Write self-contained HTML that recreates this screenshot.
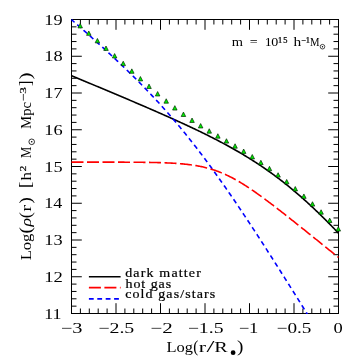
<!DOCTYPE html>
<html><head><meta charset="utf-8"><style>
html,body{margin:0;padding:0;background:#fff;}
svg{display:block;font-family:"Liberation Serif",serif;will-change:transform;}
</style></head><body>
<svg width="357" height="357" viewBox="0 0 357 357">
<rect width="357" height="357" fill="#fff"/>
<defs><clipPath id="c"><rect x="71.0" y="19.0" width="268.0" height="295.0"/></clipPath></defs>
<rect x="71.5" y="19.5" width="267.0" height="294.0" fill="none" stroke="#000" stroke-width="1"/>
<path d="M71.50 313.50 v-10.30 M71.50 19.50 v10.30 M80.40 313.50 v-5.00 M80.40 19.50 v5.00 M89.30 313.50 v-5.00 M89.30 19.50 v5.00 M98.20 313.50 v-5.00 M98.20 19.50 v5.00 M107.10 313.50 v-5.00 M107.10 19.50 v5.00 M116.00 313.50 v-10.30 M116.00 19.50 v10.30 M124.90 313.50 v-5.00 M124.90 19.50 v5.00 M133.80 313.50 v-5.00 M133.80 19.50 v5.00 M142.70 313.50 v-5.00 M142.70 19.50 v5.00 M151.60 313.50 v-5.00 M151.60 19.50 v5.00 M160.50 313.50 v-10.30 M160.50 19.50 v10.30 M169.40 313.50 v-5.00 M169.40 19.50 v5.00 M178.30 313.50 v-5.00 M178.30 19.50 v5.00 M187.20 313.50 v-5.00 M187.20 19.50 v5.00 M196.10 313.50 v-5.00 M196.10 19.50 v5.00 M205.00 313.50 v-10.30 M205.00 19.50 v10.30 M213.90 313.50 v-5.00 M213.90 19.50 v5.00 M222.80 313.50 v-5.00 M222.80 19.50 v5.00 M231.70 313.50 v-5.00 M231.70 19.50 v5.00 M240.60 313.50 v-5.00 M240.60 19.50 v5.00 M249.50 313.50 v-10.30 M249.50 19.50 v10.30 M258.40 313.50 v-5.00 M258.40 19.50 v5.00 M267.30 313.50 v-5.00 M267.30 19.50 v5.00 M276.20 313.50 v-5.00 M276.20 19.50 v5.00 M285.10 313.50 v-5.00 M285.10 19.50 v5.00 M294.00 313.50 v-10.30 M294.00 19.50 v10.30 M302.90 313.50 v-5.00 M302.90 19.50 v5.00 M311.80 313.50 v-5.00 M311.80 19.50 v5.00 M320.70 313.50 v-5.00 M320.70 19.50 v5.00 M329.60 313.50 v-5.00 M329.60 19.50 v5.00 M338.50 313.50 v-10.30 M338.50 19.50 v10.30 M71.50 313.50 h10.30 M338.50 313.50 h-10.30 M71.50 306.15 h5.00 M338.50 306.15 h-5.00 M71.50 298.80 h5.00 M338.50 298.80 h-5.00 M71.50 291.45 h5.00 M338.50 291.45 h-5.00 M71.50 284.10 h5.00 M338.50 284.10 h-5.00 M71.50 276.75 h10.30 M338.50 276.75 h-10.30 M71.50 269.40 h5.00 M338.50 269.40 h-5.00 M71.50 262.05 h5.00 M338.50 262.05 h-5.00 M71.50 254.70 h5.00 M338.50 254.70 h-5.00 M71.50 247.35 h5.00 M338.50 247.35 h-5.00 M71.50 240.00 h10.30 M338.50 240.00 h-10.30 M71.50 232.65 h5.00 M338.50 232.65 h-5.00 M71.50 225.30 h5.00 M338.50 225.30 h-5.00 M71.50 217.95 h5.00 M338.50 217.95 h-5.00 M71.50 210.60 h5.00 M338.50 210.60 h-5.00 M71.50 203.25 h10.30 M338.50 203.25 h-10.30 M71.50 195.90 h5.00 M338.50 195.90 h-5.00 M71.50 188.55 h5.00 M338.50 188.55 h-5.00 M71.50 181.20 h5.00 M338.50 181.20 h-5.00 M71.50 173.85 h5.00 M338.50 173.85 h-5.00 M71.50 166.50 h10.30 M338.50 166.50 h-10.30 M71.50 159.15 h5.00 M338.50 159.15 h-5.00 M71.50 151.80 h5.00 M338.50 151.80 h-5.00 M71.50 144.45 h5.00 M338.50 144.45 h-5.00 M71.50 137.10 h5.00 M338.50 137.10 h-5.00 M71.50 129.75 h10.30 M338.50 129.75 h-10.30 M71.50 122.40 h5.00 M338.50 122.40 h-5.00 M71.50 115.05 h5.00 M338.50 115.05 h-5.00 M71.50 107.70 h5.00 M338.50 107.70 h-5.00 M71.50 100.35 h5.00 M338.50 100.35 h-5.00 M71.50 93.00 h10.30 M338.50 93.00 h-10.30 M71.50 85.65 h5.00 M338.50 85.65 h-5.00 M71.50 78.30 h5.00 M338.50 78.30 h-5.00 M71.50 70.95 h5.00 M338.50 70.95 h-5.00 M71.50 63.60 h5.00 M338.50 63.60 h-5.00 M71.50 56.25 h10.30 M338.50 56.25 h-10.30 M71.50 48.90 h5.00 M338.50 48.90 h-5.00 M71.50 41.55 h5.00 M338.50 41.55 h-5.00 M71.50 34.20 h5.00 M338.50 34.20 h-5.00 M71.50 26.85 h5.00 M338.50 26.85 h-5.00 M71.50 19.50 h10.30 M338.50 19.50 h-10.30" stroke="#000" stroke-width="1" fill="none"/>
<g clip-path="url(#c)" fill="none" stroke-width="1.6">
<path d="M71.50 75.73 L72.39 76.10 L73.28 76.47 L74.17 76.84 L75.06 77.21 L75.95 77.58 L76.84 77.95 L77.73 78.32 L78.62 78.69 L79.51 79.06 L80.40 79.43 L81.29 79.80 L82.18 80.17 L83.07 80.54 L83.96 80.91 L84.85 81.28 L85.74 81.66 L86.63 82.03 L87.52 82.40 L88.41 82.77 L89.30 83.14 L90.19 83.51 L91.08 83.88 L91.97 84.26 L92.86 84.63 L93.75 85.00 L94.64 85.37 L95.53 85.74 L96.42 86.12 L97.31 86.49 L98.20 86.86 L99.09 87.23 L99.98 87.61 L100.87 87.98 L101.76 88.35 L102.65 88.72 L103.54 89.10 L104.43 89.47 L105.32 89.84 L106.21 90.22 L107.10 90.59 L107.99 90.96 L108.88 91.34 L109.77 91.71 L110.66 92.09 L111.55 92.46 L112.44 92.84 L113.33 93.21 L114.22 93.59 L115.11 93.96 L116.00 94.34 L116.89 94.71 L117.78 95.09 L118.67 95.46 L119.56 95.84 L120.45 96.21 L121.34 96.59 L122.23 96.97 L123.12 97.34 L124.01 97.72 L124.90 98.10 L125.79 98.48 L126.68 98.85 L127.57 99.23 L128.46 99.61 L129.35 99.99 L130.24 100.37 L131.13 100.75 L132.02 101.12 L132.91 101.50 L133.80 101.88 L134.69 102.26 L135.58 102.64 L136.47 103.02 L137.36 103.41 L138.25 103.79 L139.14 104.17 L140.03 104.55 L140.92 104.93 L141.81 105.31 L142.70 105.70 L143.59 106.08 L144.48 106.46 L145.37 106.85 L146.26 107.23 L147.15 107.62 L148.04 108.00 L148.93 108.39 L149.82 108.77 L150.71 109.16 L151.60 109.55 L152.49 109.93 L153.38 110.32 L154.27 110.71 L155.16 111.10 L156.05 111.49 L156.94 111.87 L157.83 112.26 L158.72 112.66 L159.61 113.05 L160.50 113.44 L161.39 113.83 L162.28 114.22 L163.17 114.62 L164.06 115.01 L164.95 115.40 L165.84 115.80 L166.73 116.19 L167.62 116.59 L168.51 116.99 L169.40 117.38 L170.29 117.78 L171.18 118.18 L172.07 118.58 L172.96 118.98 L173.85 119.38 L174.74 119.78 L175.63 120.18 L176.52 120.59 L177.41 120.99 L178.30 121.40 L179.19 121.80 L180.08 122.21 L180.97 122.62 L181.86 123.02 L182.75 123.43 L183.64 123.84 L184.53 124.25 L185.42 124.67 L186.31 125.08 L187.20 125.49 L188.09 125.91 L188.98 126.32 L189.87 126.74 L190.76 127.16 L191.65 127.58 L192.54 128.00 L193.43 128.42 L194.32 128.84 L195.21 129.26 L196.10 129.69 L196.99 130.11 L197.88 130.54 L198.77 130.97 L199.66 131.40 L200.55 131.83 L201.44 132.26 L202.33 132.70 L203.22 133.13 L204.11 133.57 L205.00 134.01 L205.89 134.45 L206.78 134.89 L207.67 135.33 L208.56 135.78 L209.45 136.22 L210.34 136.67 L211.23 137.12 L212.12 137.57 L213.01 138.02 L213.90 138.48 L214.79 138.93 L215.68 139.39 L216.57 139.85 L217.46 140.31 L218.35 140.77 L219.24 141.24 L220.13 141.71 L221.02 142.18 L221.91 142.65 L222.80 143.12 L223.69 143.60 L224.58 144.08 L225.47 144.56 L226.36 145.04 L227.25 145.52 L228.14 146.01 L229.03 146.50 L229.92 146.99 L230.81 147.48 L231.70 147.98 L232.59 148.48 L233.48 148.98 L234.37 149.48 L235.26 149.99 L236.15 150.50 L237.04 151.01 L237.93 151.52 L238.82 152.04 L239.71 152.56 L240.60 153.08 L241.49 153.61 L242.38 154.14 L243.27 154.67 L244.16 155.20 L245.05 155.74 L245.94 156.28 L246.83 156.82 L247.72 157.37 L248.61 157.92 L249.50 158.47 L250.39 159.03 L251.28 159.59 L252.17 160.15 L253.06 160.71 L253.95 161.28 L254.84 161.85 L255.73 162.43 L256.62 163.01 L257.51 163.59 L258.40 164.18 L259.29 164.77 L260.18 165.36 L261.07 165.96 L261.96 166.56 L262.85 167.16 L263.74 167.77 L264.63 168.38 L265.52 169.00 L266.41 169.62 L267.30 170.24 L268.19 170.87 L269.08 171.50 L269.97 172.13 L270.86 172.77 L271.75 173.42 L272.64 174.06 L273.53 174.71 L274.42 175.37 L275.31 176.03 L276.20 176.69 L277.09 177.36 L277.98 178.03 L278.87 178.70 L279.76 179.38 L280.65 180.06 L281.54 180.75 L282.43 181.44 L283.32 182.14 L284.21 182.84 L285.10 183.54 L285.99 184.25 L286.88 184.96 L287.77 185.68 L288.66 186.40 L289.55 187.13 L290.44 187.86 L291.33 188.59 L292.22 189.33 L293.11 190.07 L294.00 190.82 L294.89 191.57 L295.78 192.32 L296.67 193.08 L297.56 193.85 L298.45 194.61 L299.34 195.38 L300.23 196.16 L301.12 196.94 L302.01 197.72 L302.90 198.51 L303.79 199.31 L304.68 200.10 L305.57 200.90 L306.46 201.71 L307.35 202.52 L308.24 203.33 L309.13 204.15 L310.02 204.97 L310.91 205.79 L311.80 206.62 L312.69 207.45 L313.58 208.29 L314.47 209.13 L315.36 209.98 L316.25 210.82 L317.14 211.68 L318.03 212.53 L318.92 213.39 L319.81 214.26 L320.70 215.12 L321.59 215.99 L322.48 216.87 L323.37 217.75 L324.26 218.63 L325.15 219.51 L326.04 220.40 L326.93 221.29 L327.82 222.19 L328.71 223.09 L329.60 223.99 L330.49 224.90 L331.38 225.81 L332.27 226.72 L333.16 227.63 L334.05 228.55 L334.94 229.47 L335.83 230.40 L336.72 231.33 L337.61 232.26 L338.50 233.19" stroke="#000"/>
<path d="M71.50 19.67 L72.39 20.45 L73.28 21.23 L74.17 22.00 L75.06 22.78 L75.95 23.56 L76.84 24.34 L77.73 25.13 L78.62 25.91 L79.51 26.69 L80.40 27.47 L81.29 28.26 L82.18 29.04 L83.07 29.83 L83.96 30.62 L84.85 31.41 L85.74 32.19 L86.63 32.98 L87.52 33.78 L88.41 34.57 L89.30 35.36 L90.19 36.15 L91.08 36.95 L91.97 37.74 L92.86 38.54 L93.75 39.34 L94.64 40.14 L95.53 40.94 L96.42 41.74 L97.31 42.54 L98.20 43.35 L99.09 44.15 L99.98 44.96 L100.87 45.77 L101.76 46.58 L102.65 47.39 L103.54 48.20 L104.43 49.02 L105.32 49.83 L106.21 50.65 L107.10 51.47 L107.99 52.29 L108.88 53.11 L109.77 53.93 L110.66 54.76 L111.55 55.58 L112.44 56.41 L113.33 57.24 L114.22 58.07 L115.11 58.91 L116.00 59.74 L116.89 60.58 L117.78 61.42 L118.67 62.26 L119.56 63.10 L120.45 63.95 L121.34 64.79 L122.23 65.64 L123.12 66.50 L124.01 67.35 L124.90 68.21 L125.79 69.06 L126.68 69.92 L127.57 70.79 L128.46 71.65 L129.35 72.52 L130.24 73.39 L131.13 74.26 L132.02 75.14 L132.91 76.02 L133.80 76.90 L134.69 77.78 L135.58 78.67 L136.47 79.56 L137.36 80.45 L138.25 81.34 L139.14 82.24 L140.03 83.14 L140.92 84.05 L141.81 84.95 L142.70 85.86 L143.59 86.77 L144.48 87.69 L145.37 88.61 L146.26 89.53 L147.15 90.46 L148.04 91.39 L148.93 92.32 L149.82 93.25 L150.71 94.19 L151.60 95.13 L152.49 96.08 L153.38 97.03 L154.27 97.98 L155.16 98.94 L156.05 99.90 L156.94 100.86 L157.83 101.83 L158.72 102.80 L159.61 103.78 L160.50 104.76 L161.39 105.74 L162.28 106.73 L163.17 107.72 L164.06 108.72 L164.95 109.71 L165.84 110.72 L166.73 111.72 L167.62 112.74 L168.51 113.75 L169.40 114.77 L170.29 115.79 L171.18 116.82 L172.07 117.85 L172.96 118.89 L173.85 119.93 L174.74 120.98 L175.63 122.03 L176.52 123.08 L177.41 124.14 L178.30 125.20 L179.19 126.26 L180.08 127.34 L180.97 128.41 L181.86 129.49 L182.75 130.57 L183.64 131.66 L184.53 132.75 L185.42 133.85 L186.31 134.95 L187.20 136.06 L188.09 137.17 L188.98 138.28 L189.87 139.40 L190.76 140.53 L191.65 141.65 L192.54 142.79 L193.43 143.92 L194.32 145.06 L195.21 146.21 L196.10 147.36 L196.99 148.51 L197.88 149.67 L198.77 150.83 L199.66 152.00 L200.55 153.17 L201.44 154.34 L202.33 155.52 L203.22 156.71 L204.11 157.89 L205.00 159.09 L205.89 160.28 L206.78 161.48 L207.67 162.68 L208.56 163.89 L209.45 165.10 L210.34 166.32 L211.23 167.54 L212.12 168.76 L213.01 169.99 L213.90 171.22 L214.79 172.46 L215.68 173.69 L216.57 174.94 L217.46 176.18 L218.35 177.43 L219.24 178.69 L220.13 179.94 L221.02 181.20 L221.91 182.47 L222.80 183.73 L223.69 185.00 L224.58 186.28 L225.47 187.56 L226.36 188.84 L227.25 190.12 L228.14 191.41 L229.03 192.70 L229.92 193.99 L230.81 195.29 L231.70 196.59 L232.59 197.89 L233.48 199.19 L234.37 200.50 L235.26 201.81 L236.15 203.13 L237.04 204.44 L237.93 205.76 L238.82 207.08 L239.71 208.41 L240.60 209.74 L241.49 211.07 L242.38 212.40 L243.27 213.73 L244.16 215.07 L245.05 216.41 L245.94 217.75 L246.83 219.10 L247.72 220.44 L248.61 221.79 L249.50 223.14 L250.39 224.49 L251.28 225.85 L252.17 227.21 L253.06 228.57 L253.95 229.93 L254.84 231.29 L255.73 232.66 L256.62 234.02 L257.51 235.39 L258.40 236.76 L259.29 238.14 L260.18 239.51 L261.07 240.89 L261.96 242.27 L262.85 243.65 L263.74 245.03 L264.63 246.41 L265.52 247.79 L266.41 249.18 L267.30 250.57 L268.19 251.96 L269.08 253.35 L269.97 254.74 L270.86 256.13 L271.75 257.52 L272.64 258.92 L273.53 260.32 L274.42 261.72 L275.31 263.12 L276.20 264.52 L277.09 265.92 L277.98 267.32 L278.87 268.73 L279.76 270.13 L280.65 271.54 L281.54 272.95 L282.43 274.35 L283.32 275.76 L284.21 277.17 L285.10 278.59 L285.99 280.00 L286.88 281.41 L287.77 282.83 L288.66 284.24 L289.55 285.66 L290.44 287.08 L291.33 288.49 L292.22 289.91 L293.11 291.33 L294.00 292.75 L294.89 294.17 L295.78 295.60 L296.67 297.02 L297.56 298.44 L298.45 299.87 L299.34 301.29 L300.23 302.72 L301.12 304.14 L302.01 305.57 L302.90 307.00 L303.79 308.43 L304.68 309.85 L305.57 311.28 L306.46 312.71 L307.35 314.14 L308.24 315.57 L309.13 317.01 L310.02 318.44 L310.91 319.87 L311.80 321.30 L312.69 322.74 L313.58 324.17 L314.47 325.60 L315.36 327.04 L316.25 328.47 L317.14 329.91 L318.03 331.35 L318.92 332.78 L319.81 334.22 L320.70 335.66 L321.59 337.09 L322.48 338.53 L323.37 339.97 L324.26 341.41 L325.15 342.85 L326.04 344.29 L326.93 345.73 L327.82 347.17 L328.71 348.61 L329.60 350.05 L330.49 351.49 L331.38 352.93 L332.27 354.37 L333.16 355.81 L334.05 357.26 L334.94 358.70 L335.83 360.14 L336.72 361.59 L337.61 363.03 L338.50 364.47" stroke="#00f" stroke-dasharray="4.8 3.6" stroke-dashoffset="0.8"/>
<path d="M71.50 162.09 L72.39 162.10 L73.28 162.10 L74.17 162.10 L75.06 162.10 L75.95 162.10 L76.84 162.10 L77.73 162.10 L78.62 162.10 L79.51 162.10 L80.40 162.10 L81.29 162.10 L82.18 162.10 L83.07 162.10 L83.96 162.10 L84.85 162.10 L85.74 162.10 L86.63 162.10 L87.52 162.10 L88.41 162.10 L89.30 162.10 L90.19 162.10 L91.08 162.10 L91.97 162.10 L92.86 162.11 L93.75 162.11 L94.64 162.11 L95.53 162.11 L96.42 162.11 L97.31 162.11 L98.20 162.11 L99.09 162.11 L99.98 162.11 L100.87 162.11 L101.76 162.12 L102.65 162.12 L103.54 162.12 L104.43 162.12 L105.32 162.12 L106.21 162.12 L107.10 162.12 L107.99 162.13 L108.88 162.13 L109.77 162.13 L110.66 162.13 L111.55 162.13 L112.44 162.13 L113.33 162.14 L114.22 162.14 L115.11 162.14 L116.00 162.14 L116.89 162.15 L117.78 162.15 L118.67 162.15 L119.56 162.16 L120.45 162.16 L121.34 162.16 L122.23 162.17 L123.12 162.17 L124.01 162.17 L124.90 162.18 L125.79 162.18 L126.68 162.19 L127.57 162.19 L128.46 162.20 L129.35 162.20 L130.24 162.21 L131.13 162.21 L132.02 162.22 L132.91 162.22 L133.80 162.23 L134.69 162.24 L135.58 162.24 L136.47 162.25 L137.36 162.26 L138.25 162.27 L139.14 162.28 L140.03 162.29 L140.92 162.29 L141.81 162.30 L142.70 162.31 L143.59 162.33 L144.48 162.34 L145.37 162.35 L146.26 162.36 L147.15 162.38 L148.04 162.39 L148.93 162.40 L149.82 162.42 L150.71 162.43 L151.60 162.45 L152.49 162.47 L153.38 162.49 L154.27 162.51 L155.16 162.53 L156.05 162.55 L156.94 162.57 L157.83 162.59 L158.72 162.62 L159.61 162.64 L160.50 162.67 L161.39 162.70 L162.28 162.73 L163.17 162.76 L164.06 162.79 L164.95 162.82 L165.84 162.86 L166.73 162.89 L167.62 162.93 L168.51 162.97 L169.40 163.01 L170.29 163.06 L171.18 163.10 L172.07 163.15 L172.96 163.20 L173.85 163.25 L174.74 163.31 L175.63 163.36 L176.52 163.42 L177.41 163.49 L178.30 163.55 L179.19 163.62 L180.08 163.69 L180.97 163.77 L181.86 163.84 L182.75 163.92 L183.64 164.01 L184.53 164.10 L185.42 164.19 L186.31 164.28 L187.20 164.38 L188.09 164.49 L188.98 164.59 L189.87 164.71 L190.76 164.82 L191.65 164.95 L192.54 165.07 L193.43 165.21 L194.32 165.34 L195.21 165.49 L196.10 165.63 L196.99 165.79 L197.88 165.95 L198.77 166.11 L199.66 166.28 L200.55 166.46 L201.44 166.65 L202.33 166.84 L203.22 167.04 L204.11 167.24 L205.00 167.46 L205.89 167.67 L206.78 167.90 L207.67 168.14 L208.56 168.38 L209.45 168.63 L210.34 168.89 L211.23 169.15 L212.12 169.42 L213.01 169.71 L213.90 170.00 L214.79 170.29 L215.68 170.60 L216.57 170.92 L217.46 171.24 L218.35 171.57 L219.24 171.91 L220.13 172.26 L221.02 172.62 L221.91 172.99 L222.80 173.36 L223.69 173.75 L224.58 174.14 L225.47 174.54 L226.36 174.95 L227.25 175.37 L228.14 175.80 L229.03 176.23 L229.92 176.67 L230.81 177.12 L231.70 177.58 L232.59 178.05 L233.48 178.53 L234.37 179.01 L235.26 179.50 L236.15 180.00 L237.04 180.50 L237.93 181.01 L238.82 181.53 L239.71 182.06 L240.60 182.59 L241.49 183.13 L242.38 183.67 L243.27 184.23 L244.16 184.78 L245.05 185.35 L245.94 185.92 L246.83 186.49 L247.72 187.07 L248.61 187.66 L249.50 188.25 L250.39 188.85 L251.28 189.45 L252.17 190.06 L253.06 190.67 L253.95 191.28 L254.84 191.90 L255.73 192.52 L256.62 193.15 L257.51 193.78 L258.40 194.42 L259.29 195.06 L260.18 195.70 L261.07 196.34 L261.96 196.99 L262.85 197.64 L263.74 198.30 L264.63 198.95 L265.52 199.61 L266.41 200.28 L267.30 200.94 L268.19 201.61 L269.08 202.28 L269.97 202.95 L270.86 203.62 L271.75 204.30 L272.64 204.98 L273.53 205.66 L274.42 206.34 L275.31 207.02 L276.20 207.71 L277.09 208.40 L277.98 209.09 L278.87 209.78 L279.76 210.47 L280.65 211.16 L281.54 211.85 L282.43 212.55 L283.32 213.24 L284.21 213.94 L285.10 214.64 L285.99 215.34 L286.88 216.04 L287.77 216.74 L288.66 217.44 L289.55 218.15 L290.44 218.85 L291.33 219.56 L292.22 220.26 L293.11 220.97 L294.00 221.68 L294.89 222.38 L295.78 223.09 L296.67 223.80 L297.56 224.51 L298.45 225.22 L299.34 225.93 L300.23 226.64 L301.12 227.35 L302.01 228.06 L302.90 228.78 L303.79 229.49 L304.68 230.20 L305.57 230.92 L306.46 231.63 L307.35 232.34 L308.24 233.06 L309.13 233.77 L310.02 234.49 L310.91 235.20 L311.80 235.92 L312.69 236.64 L313.58 237.35 L314.47 238.07 L315.36 238.78 L316.25 239.50 L317.14 240.22 L318.03 240.94 L318.92 241.65 L319.81 242.37 L320.70 243.09 L321.59 243.81 L322.48 244.52 L323.37 245.24 L324.26 245.96 L325.15 246.68 L326.04 247.40 L326.93 248.12 L327.82 248.84 L328.71 249.55 L329.60 250.27 L330.49 250.99 L331.38 251.71 L332.27 252.43 L333.16 253.15 L334.05 253.87 L334.94 254.59 L335.83 255.31 L336.72 256.03 L337.61 256.75 L338.50 257.47" stroke="#f00" stroke-dasharray="12 3.5"/>
</g>
<g fill="#00f000" stroke="#002800" stroke-width="0.7"><path d="M80.20 23.52 L82.45 27.92 L77.95 27.92 Z"/><path d="M88.80 30.97 L91.05 35.37 L86.55 35.37 Z"/><path d="M97.41 38.46 L99.66 42.86 L95.16 42.86 Z"/><path d="M106.01 46.00 L108.26 50.40 L103.76 50.40 Z"/><path d="M114.61 53.59 L116.86 57.99 L112.36 57.99 Z"/><path d="M123.22 61.22 L125.47 65.62 L120.97 65.62 Z"/><path d="M131.82 68.87 L134.07 73.27 L129.57 73.27 Z"/><path d="M140.42 76.52 L142.67 80.92 L138.17 80.92 Z"/><path d="M149.03 84.11 L151.28 88.51 L146.78 88.51 Z"/><path d="M157.63 91.57 L159.88 95.97 L155.38 95.97 Z"/><path d="M166.23 98.78 L168.48 103.18 L163.98 103.18 Z"/><path d="M174.84 105.65 L177.09 110.05 L172.59 110.05 Z"/><path d="M183.44 112.09 L185.69 116.49 L181.19 116.49 Z"/><path d="M192.04 118.04 L194.29 122.44 L189.79 122.44 Z"/><path d="M200.65 123.56 L202.90 127.96 L198.40 127.96 Z"/><path d="M209.25 128.75 L211.50 133.15 L207.00 133.15 Z"/><path d="M217.85 133.75 L220.10 138.15 L215.60 138.15 Z"/><path d="M226.46 138.72 L228.71 143.12 L224.21 143.12 Z"/><path d="M235.06 143.78 L237.31 148.18 L232.81 148.18 Z"/><path d="M243.66 149.02 L245.91 153.42 L241.41 153.42 Z"/><path d="M252.27 154.51 L254.52 158.91 L250.02 158.91 Z"/><path d="M260.87 160.27 L263.12 164.67 L258.62 164.67 Z"/><path d="M269.47 166.33 L271.72 170.73 L267.22 170.73 Z"/><path d="M278.08 172.72 L280.33 177.12 L275.83 177.12 Z"/><path d="M286.68 179.45 L288.93 183.85 L284.43 183.85 Z"/><path d="M295.28 186.53 L297.53 190.93 L293.03 190.93 Z"/><path d="M303.89 193.96 L306.14 198.36 L301.64 198.36 Z"/><path d="M312.49 201.72 L314.74 206.12 L310.24 206.12 Z"/><path d="M321.09 209.78 L323.34 214.18 L318.84 214.18 Z"/><path d="M329.70 218.12 L331.95 222.52 L327.45 222.52 Z"/><path d="M338.30 226.68 L340.55 231.08 L336.05 231.08 Z"/></g>
<g stroke-width="1.6" fill="none">
<path d="M88.9 276.8 H120.6" stroke="#000"/>
<path d="M88.9 287.6 H120.6" stroke="#f00" stroke-dasharray="12 3.5"/>
<path d="M88.9 298.9 H120.6" stroke="#00f" stroke-dasharray="4.8 3.6"/>
</g>
<g fill="#000">
<text transform="translate(44.31 318.60) scale(1.1918 1)" font-size="15px" style="">11</text>
<text transform="translate(44.24 281.85) scale(1.2462 1)" font-size="15px" style="">12</text>
<text transform="translate(44.27 245.10) scale(1.2226 1)" font-size="15px" style="">13</text>
<text transform="translate(44.30 208.35) scale(1.2000 1)" font-size="15px" style="">14</text>
<text transform="translate(44.27 171.60) scale(1.2226 1)" font-size="15px" style="">15</text>
<text transform="translate(44.27 134.85) scale(1.2226 1)" font-size="15px" style="">16</text>
<text transform="translate(44.27 98.10) scale(1.2226 1)" font-size="15px" style="">17</text>
<text transform="translate(44.27 61.35) scale(1.2226 1)" font-size="15px" style="">18</text>
<text transform="translate(44.27 24.60) scale(1.2226 1)" font-size="15px" style="">19</text>
<text transform="translate(60.68 332.80) scale(1.3586 1)" font-size="15px" style="">−3</text>
<text transform="translate(98.20 332.80) scale(1.3282 1)" font-size="15px" style="">−2.5</text>
<text transform="translate(150.35 332.80) scale(1.4035 1)" font-size="15px" style="">−2</text>
<text transform="translate(187.71 332.80) scale(1.3165 1)" font-size="15px" style="">−1.5</text>
<text transform="translate(238.67 332.80) scale(1.2351 1)" font-size="15px" style="">−1</text>
<text transform="translate(276.54 332.80) scale(1.2816 1)" font-size="15px" style="">−0.5</text>
<text transform="translate(333.58 332.80) scale(1.2308 1)" font-size="15px" style="">0</text>
<text transform="translate(166.45 352.30) scale(1.0979 1)" font-size="15px" style="">Log</text>
<text transform="translate(193.24 352.30) scale(1.0133 1.1)" font-size="15px" style="">(</text>
<text transform="translate(198.63 352.30) scale(1.4667 1)" font-size="15px" style="">r</text>
<text transform="translate(206.60 352.30) scale(1.9250 1.08)" font-size="15px" style="">/</text>
<text transform="translate(214.33 352.30) scale(1.3474 1)" font-size="15px" style="">R</text>
<circle cx="233.1" cy="352.7" r="2.4" stroke="none"/>
<text transform="translate(236.96 352.30) scale(1.2800 1.1)" font-size="15px" style="">)</text>
<text transform="translate(231.81 45.80) scale(1.1568 1)" font-size="12.5px" style="">m</text>
<text transform="translate(249.64 45.80) scale(1.1167 1)" font-size="12.5px" style="">=</text>
<text transform="translate(264.78 45.80) scale(1.1200 1)" font-size="12.5px" style="letter-spacing:-0.554px;">10</text>
<text transform="translate(278.04 42.80) scale(1.1200 1)" font-size="7.5px" style="letter-spacing:0.929px;stroke:#000;stroke-width:0.25px;">15</text>
<text transform="translate(293.39 45.80) scale(1.2348 1)" font-size="12.5px" style="">h</text>
<text transform="translate(301.32 42.80) scale(1.1200 1)" font-size="7.5px" style="letter-spacing:-0.357px;stroke:#000;stroke-width:0.25px;">−1</text>
<text transform="translate(309.99 45.80) scale(0.8571 1)" font-size="12.5px" style="">M</text>
<circle cx="322.5" cy="46.7" r="2.3" fill="none" stroke="#000" stroke-width="0.7"/><circle cx="322.5" cy="46.7" r="0.7" stroke="none"/>
<text transform="translate(125.22 276.60) scale(1.1200 1)" font-size="12.5px" style="letter-spacing:1.032px;stroke:#000;stroke-width:0.2px;">dark matter</text>
<text transform="translate(125.50 287.50) scale(1.1200 1)" font-size="12.5px" style="letter-spacing:0.839px;stroke:#000;stroke-width:0.2px;">hot gas</text>
<text transform="translate(125.22 298.30) scale(1.1200 1)" font-size="12.5px" style="letter-spacing:0.973px;stroke:#000;stroke-width:0.2px;">cold gas/stars</text>
</g>
<g fill="#000" transform="translate(30.9 259.7) rotate(-90)">
<text transform="translate(-0.56 0.00) scale(1.1200 1)" font-size="15px" style="letter-spacing:-0.143px;">Log</text>
<text transform="translate(26.14 0.00) scale(1.2800 1.1)" font-size="15px" style="">(</text>
<text transform="translate(33.20 0.00) scale(1.2000 1)" font-size="15px" style="font-style:italic;">ρ</text>
<text transform="translate(41.48 0.00) scale(1.2267 1.1)" font-size="15px" style="">(</text>
<text transform="translate(47.95 0.00) scale(1.4000 1)" font-size="15px" style="">r</text>
<text transform="translate(56.03 0.00) scale(1.3333 1.1)" font-size="15px" style="">)</text>
<text transform="translate(71.33 0.00) scale(1.3714 1.1)" font-size="15px" style="">[</text>
<text transform="translate(79.22 0.00) scale(1.1286 1)" font-size="15px" style="">h</text>
<text transform="translate(88.17 -5.00) scale(1.3000 1)" font-size="9px" style="stroke:#000;stroke-width:0.2px;">2</text>
<text transform="translate(101.68 0.00) scale(0.8480 1)" font-size="15px" style="">M</text>
<circle cx="117.90" cy="0.8" r="2.8" fill="none" stroke="#000" stroke-width="0.8"/><circle cx="117.90" cy="0.8" r="0.8" stroke="none"/>
<text transform="translate(130.71 0.00) scale(0.9887 1)" font-size="15px" style="">Mpc</text>
<text transform="translate(158.43 -5.00) scale(1.4778 1)" font-size="9px" style="stroke:#000;stroke-width:0.2px;">−3</text>
<text transform="translate(173.66 0.00) scale(1.0857 1.1)" font-size="15px" style="">]</text>
<text transform="translate(180.09 0.00) scale(1.4133 1.1)" font-size="15px" style="">)</text>
</g>
</svg>
</body></html>
